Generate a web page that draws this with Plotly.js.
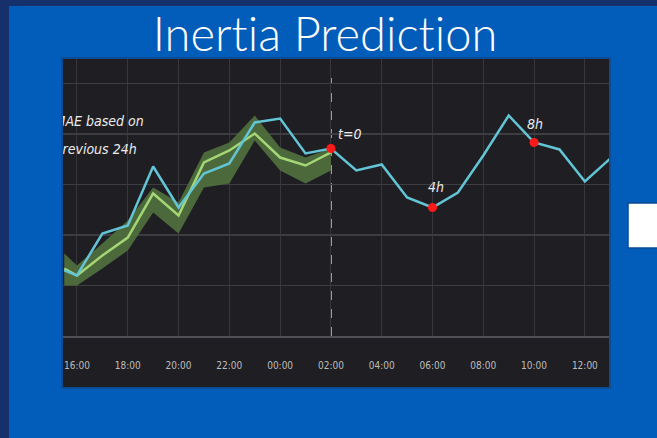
<!DOCTYPE html>
<html>
<head>
<meta charset="utf-8">
<script src="https://cdn.plot.ly/plotly-3.0.1.min.js"></script>
<style>
html,body{margin:0;padding:0;background:#15306b;}
#chart{width:657px;height:438px;}
#chart text{font-variant-ligatures:none;font-feature-settings:"liga" 0, "clig" 0;}
</style>
</head>
<body>
<div id="chart"></div>
<script>
// ---- data ----
const observedTimes = [
  '2024-03-04 15:30','2024-03-04 16:00','2024-03-04 17:00','2024-03-04 18:00','2024-03-04 19:00',
  '2024-03-04 20:00','2024-03-04 21:00','2024-03-04 22:00','2024-03-04 23:00','2024-03-05 00:00',
  '2024-03-05 01:00','2024-03-05 02:00','2024-03-05 03:00','2024-03-05 04:00','2024-03-05 05:00',
  '2024-03-05 06:00','2024-03-05 07:00','2024-03-05 08:00','2024-03-05 09:00','2024-03-05 10:00',
  '2024-03-05 11:00','2024-03-05 12:00','2024-03-05 13:00'
];
const observedInertia = [215, 210, 251.5, 259.4, 317.8, 277.2, 310.9, 320.8, 361.4, 365.3,
  330.7, 335.6, 313.9, 319.8, 287.1, 277.2, 292.1, 328.7, 368.3, 341.6, 334.7, 303.0, 325.7];

const predTimes = [
  '2024-03-04 15:30','2024-03-04 16:00','2024-03-04 17:00','2024-03-04 18:00','2024-03-04 19:00',
  '2024-03-04 20:00','2024-03-04 21:00','2024-03-04 22:00','2024-03-04 23:00','2024-03-05 00:00',
  '2024-03-05 01:00','2024-03-05 02:00'
];
const predInertia = [216.8, 209.9, 229.7, 247.5, 291.1, 269.3, 321.8, 333.7, 350.5, 326.7, 318.8, 331.7];
const predUpper   = [231.7, 219.8, 241.6, 264.4, 297.0, 282.2, 331.7, 341.6, 368.3, 336.6, 326.7, 335.6];
const predLower   = [200.0, 200.0, 216.8, 234.7, 272.3, 251.5, 297.0, 301.0, 343.6, 313.9, 301.0, 313.9];

const markerTimes = ['2024-03-05 02:00','2024-03-05 06:00','2024-03-05 10:00'];
const markerLabels = ['t=0','4h','8h'];
const noteLines = ['MAE based on','previous 24h'];
const noteValues = [361.4, 333.2];
const titleText = 'Inertia Prediction';

// ---- figure ----
const markerValues = markerTimes.map(t => observedInertia[observedTimes.indexOf(t)]);
const W = 657, H = 438, ML = 63, MR = 48, MT = 59, MB = 102;
const PW = W - ML - MR, PH = H - MT - MB;
const px = v => (v - ML) / PW;
const py = v => (H - MB - v) / PH;

const italic = {family:'Liberation Sans Narrow, DejaVu Sans Condensed, sans-serif', size:14, color:'#ececec', style:'italic'};

const traces = [
  {x: predTimes, y: predLower, type:'scatter', mode:'lines', line:{width:0, color:'rgba(0,0,0,0)'}, hoverinfo:'skip', showlegend:false},
  {x: predTimes, y: predUpper, type:'scatter', mode:'lines', fill:'tonexty', fillcolor:'rgba(80,112,62,0.92)', line:{width:0, color:'rgba(0,0,0,0)'}, hoverinfo:'skip', showlegend:false},
  {x: predTimes, y: predInertia, type:'scatter', mode:'lines', line:{color:'#a4d675', width:2.5}, showlegend:false},
  {x: observedTimes, y: observedInertia, type:'scatter', mode:'lines', line:{color:'#62c4d4', width:2.5}, showlegend:false},
  {x: markerTimes, y: markerValues, type:'scatter', mode:'markers', marker:{color:'#ff1a1a', size:9}, showlegend:false},
  {x: ['2024-03-04 15:07','2024-03-04 15:07'], y: noteValues, text: noteLines, type:'scatter', mode:'text',
   textposition:'middle right', textfont: italic, cliponaxis:true, showlegend:false, hoverinfo:'skip'}
];

const annShift = [[5, 15, 'left'], [3, 21, 'center'], [1, 18, 'center']];
const annotations = markerTimes.map((t, i) => ({
  x: t, y: markerValues[i], xref:'x', yref:'y', text: markerLabels[i], showarrow:false,
  xanchor: annShift[i][2], yanchor:'middle', xshift: annShift[i][0], yshift: annShift[i][1], font: italic
}));

const layout = {
  width: W, height: H,
  margin: {l: ML, r: MR, t: MT, b: MB, pad: 0},
  paper_bgcolor: '#15306b',
  plot_bgcolor: '#1f1f23',
  title: {text: titleText, x: 325/W, xanchor:'center', xref:'container', y: 1 - 35/H, yref:'container', yanchor:'middle',
          font:{family:'Lato, Open Sans, sans-serif', size:47, color:'#ffffff', weight:300}},
  xaxis: {type:'date', range:['2024-03-04 15:27','2024-03-05 12:57'], dtick: 7200000, tick0:'2024-03-04 00:00',
          tickformat:'%H:%M', ticks:'', ticklabelstandoff: 19,
          tickfont:{family:'Liberation Sans Narrow, DejaVu Sans Condensed, sans-serif', size:10, color:'#bdbdbd'},
          showgrid:true, gridcolor:'#36363b', gridwidth:1, showline:true, linecolor:'#505056', linewidth:2,
          zeroline:false, fixedrange:true},
  yaxis: {range:[150, 150 + PH*50/50.5], dtick:50, tick0:0, showticklabels:false, ticks:'',
          showgrid:true, gridcolor:'#3c3c41', gridwidth:1.5, zeroline:false, showline:false, fixedrange:true},
  shapes: [
    {type:'rect', xref:'paper', yref:'paper', x0:px(9), x1:px(662), y0:py(6), y1:py(445), fillcolor:'#025cb9', line:{width:0}, layer:'below'},
    {type:'rect', xref:'paper', yref:'paper', x0:px(62), x1:px(610), y0:py(58), y1:py(388), fillcolor:'#1f1f23', line:{width:2, color:'#0c4c96'}, layer:'below'},
    {type:'rect', xref:'paper', yref:'paper', x0:px(628), x1:px(664), y0:py(203), y1:py(248), fillcolor:'#ffffff', line:{width:1.5, color:'#0a4a94'}, layer:'below'},
    {type:'line', xref:'x', yref:'paper', x0: markerTimes[0], x1: markerTimes[0], y0: 0, y1: py(78),
     line:{color:'#d8d8d8', width:1.5, dash:'dash'}, layer:'between'}
  ],
  annotations: annotations,
  showlegend: false,
  hovermode: false
};

Plotly.newPlot('chart', traces, layout, {displayModeBar:false, staticPlot:true});
</script>
</body>
</html>
